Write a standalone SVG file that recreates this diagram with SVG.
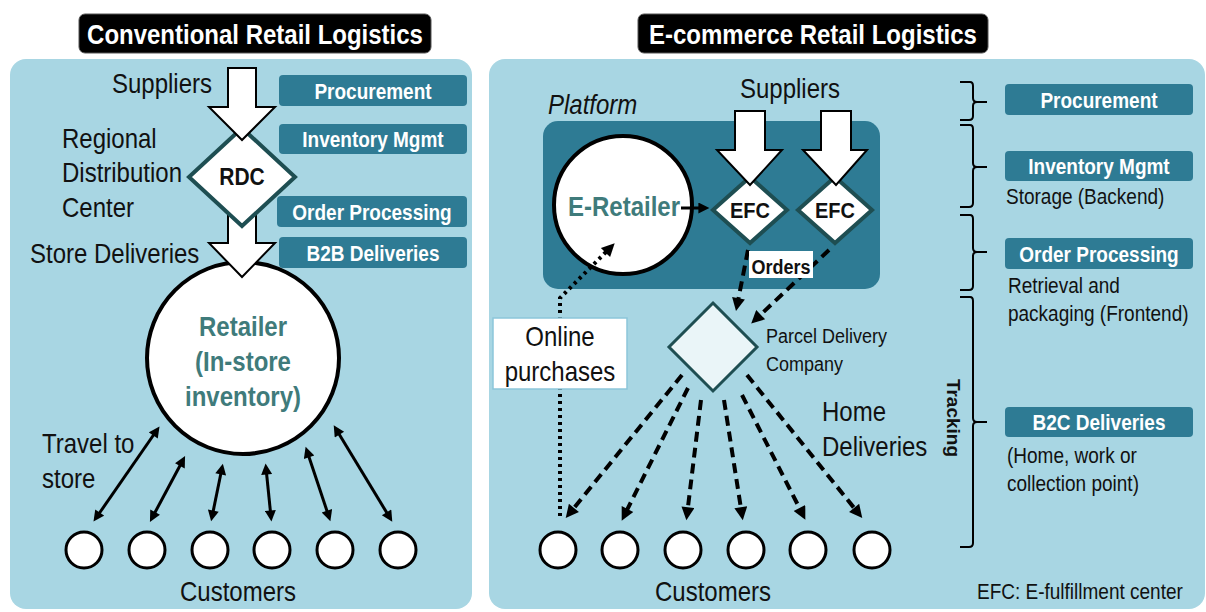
<svg xmlns="http://www.w3.org/2000/svg" width="1206" height="612" viewBox="0 0 1206 612">
<style>
  .t{font-family:"Liberation Sans",Arial,sans-serif;fill:#111}
  .s{transform-box:fill-box;transform-origin:center;transform:scaleY(1.13)}
  .l24{font-size:24px}
  .l19{font-size:19px}
  .title{font-family:"Liberation Sans",Arial,sans-serif;font-size:24px;font-weight:bold;fill:#fff}
  .box{fill:#2e7b94}
  .bt{font-family:"Liberation Sans",Arial,sans-serif;font-size:19px;font-weight:bold;fill:#fff}
  .panel{fill:#a8d6e3}
  .blk{fill:#fff;stroke:#000;stroke-width:2;stroke-linejoin:miter}
  .dia{fill:#fff;stroke:#1e4e52;stroke-width:4;stroke-linejoin:miter}
  .cust{fill:#fff;stroke:#000;stroke-width:3}
  .dbl{stroke:#000;stroke-width:3;fill:none;marker-start:url(#ah3);marker-end:url(#ah3)}
  .dash{stroke:#000;stroke-width:4;fill:none;stroke-dasharray:10 6;marker-end:url(#ah4)}
  .brace{stroke:#000;stroke-width:2;fill:none}
  .teal{fill:#3f7b7b;font-weight:bold}
</style>
<defs>
  <marker id="ah3" viewBox="0 0 10 10" refX="6" refY="5" markerWidth="13" markerHeight="11" markerUnits="userSpaceOnUse" orient="auto-start-reverse">
    <path d="M0,0 L10,5 L0,10 z" fill="#000"/>
  </marker>
  <marker id="ah4" viewBox="0 0 10 10" refX="6" refY="5" markerWidth="15" markerHeight="13" markerUnits="userSpaceOnUse" orient="auto">
    <path d="M0,0 L10,5 L0,10 z" fill="#000"/>
  </marker>
</defs>

<!-- Panels -->
<rect class="panel" x="10" y="59" width="462" height="550" rx="16"/>
<rect class="panel" x="489" y="59" width="716" height="550" rx="16"/>

<!-- Titles -->
<g id="title-left">
  <rect x="79" y="14" width="352" height="39" rx="6" fill="#000" stroke="#555" stroke-width="1"/>
  <text class="title s" x="255" y="43" text-anchor="middle">Conventional Retail Logistics</text>
</g>
<g id="title-right">
  <rect x="638" y="14" width="350" height="39" rx="6" fill="#000" stroke="#555" stroke-width="1"/>
  <text class="title s" x="813" y="43" text-anchor="middle">E-commerce Retail Logistics</text>
</g>

<!-- ===== LEFT PANEL ===== -->
<g id="left-labels">
  <text class="t s l24" x="212" y="92" text-anchor="end">Suppliers</text>
  <text class="t s l24" x="62" y="147">Regional</text>
  <text class="t s l24" x="62" y="181">Distribution</text>
  <text class="t s l24" x="62" y="216">Center</text>
  <text class="t s l24" x="30" y="262">Store Deliveries</text>
  <text class="t s l24" x="42" y="452">Travel to</text>
  <text class="t s l24" x="42" y="487">store</text>
  <text class="t s l24" x="238" y="600" text-anchor="middle">Customers</text>
</g>

<g id="left-boxes">
  <rect class="box" x="279" y="75" width="188" height="31" rx="4"/>
  <text class="bt s" x="373" y="98" text-anchor="middle">Procurement</text>
  <rect class="box" x="279" y="124" width="188" height="30" rx="4"/>
  <text class="bt s" x="373" y="146" text-anchor="middle">Inventory Mgmt</text>
  <rect class="box" x="277" y="196" width="190" height="31" rx="4"/>
  <text class="bt s" x="372" y="219" text-anchor="middle">Order Processing</text>
  <rect class="box" x="279" y="237" width="188" height="31" rx="4"/>
  <text class="bt s" x="373" y="260" text-anchor="middle">B2B Deliveries</text>
</g>

<g id="retailer">
  <circle cx="243" cy="358" r="96" fill="#fff" stroke="#000" stroke-width="4"/>
  <text class="t s l24 teal" x="243" y="335" text-anchor="middle">Retailer</text>
  <text class="t s l24 teal" x="243" y="370" text-anchor="middle">(In-store</text>
  <text class="t s l24 teal" x="243" y="405" text-anchor="middle">inventory)</text>
</g>

<g id="left-block-arrows">
  <polygon class="blk" points="228,214 256,214 256,243 275,243 242,277 209,243 228,243"/>
</g>

<g id="rdc">
  <polygon class="dia" points="242,128 295,177 242,226 189,177"/>
  <text class="t s" x="242" y="184" text-anchor="middle" font-size="21" font-weight="bold">RDC</text>
</g>

<g id="suppliers-arrow-left">
  <polygon class="blk" points="228,68 256,68 256,107 275,107 242,140 209,107 228,107"/>
</g>

<g id="left-customers">
  <circle class="cust" cx="84" cy="550" r="18"/>
  <circle class="cust" cx="147" cy="550" r="18"/>
  <circle class="cust" cx="210" cy="550" r="18"/>
  <circle class="cust" cx="272" cy="550" r="18"/>
  <circle class="cust" cx="335" cy="550" r="18"/>
  <circle class="cust" cx="398" cy="550" r="18"/>
</g>

<g id="left-connectors">
  <line class="dbl" x1="96" y1="518" x2="157" y2="430"/>
  <line class="dbl" x1="152" y1="518" x2="183" y2="460"/>
  <line class="dbl" x1="212" y1="517" x2="222" y2="468"/>
  <line class="dbl" x1="271" y1="517" x2="266" y2="468"/>
  <line class="dbl" x1="329" y1="517" x2="307" y2="451"/>
  <line class="dbl" x1="390" y1="518" x2="336" y2="429"/>
</g>

<!-- ===== RIGHT PANEL ===== -->
<g id="platform">
  <rect x="543" y="121" width="337" height="168" rx="15" fill="#2e7b94"/>
  <text class="t s l24" x="548" y="113" font-style="italic">Platform</text>
</g>

<g id="right-labels">
  <text class="t s l24" x="790" y="97" text-anchor="middle">Suppliers</text>
  <text class="t s" x="766" y="342" font-size="18">Parcel Delivery</text>
  <text class="t s" x="766" y="370" font-size="18">Company</text>
  <text class="t s l24" x="822" y="420">Home</text>
  <text class="t s l24" x="822" y="455">Deliveries</text>
  <text class="t s l24" x="713" y="600" text-anchor="middle">Customers</text>
  <text class="t s l19" x="977" y="598">EFC: E-fulfillment center</text>
</g>

<g id="e-retailer">
  <circle cx="623" cy="205" r="69" fill="#fff" stroke="#000" stroke-width="4"/>
  <text class="t s l24 teal" x="624" y="215" text-anchor="middle">E-Retailer</text>
</g>

<g id="efc1">
  <polygon class="dia" points="750,177 787,210 750,243 713,210" stroke-width="3"/>
  <text class="t s" x="750" y="217" text-anchor="middle" font-size="20" font-weight="bold">EFC</text>
</g>
<g id="efc2">
  <polygon class="dia" points="835,177 872,210 835,243 798,210" stroke-width="3"/>
  <text class="t s" x="835" y="217" text-anchor="middle" font-size="20" font-weight="bold">EFC</text>
</g>

<g id="right-block-arrows">
  <polygon class="blk" points="735,111 765,111 765,150 782,150 750,185 717,150 735,150"/>
  <polygon class="blk" points="821,111 851,111 851,150 867,150 836,185 803,150 821,150"/>
</g>

<g id="parcel">
  <polygon points="713,303 757,347 713,391 669,347" fill="#eaf5f8" stroke="#1e4e52" stroke-width="3"/>
</g>

<g id="right-customers">
  <circle class="cust" cx="558" cy="550" r="18"/>
  <circle class="cust" cx="620" cy="550" r="18"/>
  <circle class="cust" cx="683" cy="550" r="18"/>
  <circle class="cust" cx="746" cy="550" r="18"/>
  <circle class="cust" cx="808" cy="550" r="18"/>
  <circle class="cust" cx="872" cy="550" r="18"/>
</g>

<g id="right-connectors">
  <line x1="681" y1="208" x2="705" y2="208" stroke="#000" stroke-width="3" marker-end="url(#ah3)"/>
  <path d="M560,516 L560,298 L611,247" stroke="#000" stroke-width="4" fill="none" stroke-dasharray="3 4" marker-end="url(#ah4)"/>
  <line class="dash" x1="748" y1="250" x2="737" y2="306"/>
  <line class="dash" x1="829" y1="250" x2="755" y2="320"/>
  <line class="dash" x1="682" y1="375" x2="569" y2="514"/>
  <line class="dash" x1="688" y1="388" x2="624" y2="516"/>
  <line class="dash" x1="701" y1="400" x2="687" y2="515"/>
  <line class="dash" x1="724" y1="400" x2="742" y2="515"/>
  <line class="dash" x1="742" y1="395" x2="803" y2="515"/>
  <line class="dash" x1="747" y1="375" x2="859" y2="514"/>
</g>

<g id="online-purchases">
  <rect x="493" y="318" width="134" height="71" fill="#fff" stroke="#8cc6da" stroke-width="1.5"/>
  <text class="t s l24" x="560" y="345" text-anchor="middle">Online</text>
  <text class="t s l24" x="560" y="380" text-anchor="middle">purchases</text>
</g>

<g id="orders-label">
  <rect x="749" y="251" width="64" height="27" fill="#fff"/>
  <text class="t s" x="781" y="273" text-anchor="middle" font-size="18" font-weight="bold">Orders</text>
</g>

<g id="braces">
  <path class="brace" d="M960,82 H970 Q973,82 973,86 V98 Q973,102 977,102 H987 M977,102 Q973,102 973,106 V116 Q973,120 969,120 H960"/>
  <path class="brace" d="M960,125 H970 Q973,125 973,129 V163 Q973,167 977,167 H987 M977,167 Q973,167 973,171 V203 Q973,207 969,207 H960"/>
  <path class="brace" d="M960,215 H970 Q973,215 973,219 V248 Q973,252 977,252 H987 M977,252 Q973,252 973,256 V286 Q973,290 969,290 H960"/>
  <path class="brace" d="M960,297 H970 Q973,297 973,301 V418 Q973,422 977,422 H987 M977,422 Q973,422 973,426 V543 Q973,547 969,547 H960"/>
  <text class="t" font-size="19" font-weight="bold" text-anchor="middle" transform="translate(947,418) rotate(90)">Tracking</text>
</g>

<g id="right-boxes">
  <rect class="box" x="1005" y="84" width="188" height="31" rx="4"/>
  <text class="bt s" x="1099" y="107" text-anchor="middle">Procurement</text>
  <rect class="box" x="1005" y="151" width="188" height="30" rx="4"/>
  <text class="bt s" x="1099" y="173" text-anchor="middle">Inventory Mgmt</text>
  <text class="t s l19" x="1006" y="203">Storage (Backend)</text>
  <rect class="box" x="1005" y="238" width="188" height="31" rx="4"/>
  <text class="bt s" x="1099" y="261" text-anchor="middle">Order Processing</text>
  <text class="t s l19" x="1008" y="292">Retrieval and</text>
  <text class="t s l19" x="1008" y="320">packaging (Frontend)</text>
  <rect class="box" x="1005" y="407" width="188" height="30" rx="4"/>
  <text class="bt s" x="1099" y="429" text-anchor="middle">B2C Deliveries</text>
  <text class="t s l19" x="1007" y="462">(Home, work or</text>
  <text class="t s l19" x="1007" y="490">collection point)</text>
</g>
</svg>
